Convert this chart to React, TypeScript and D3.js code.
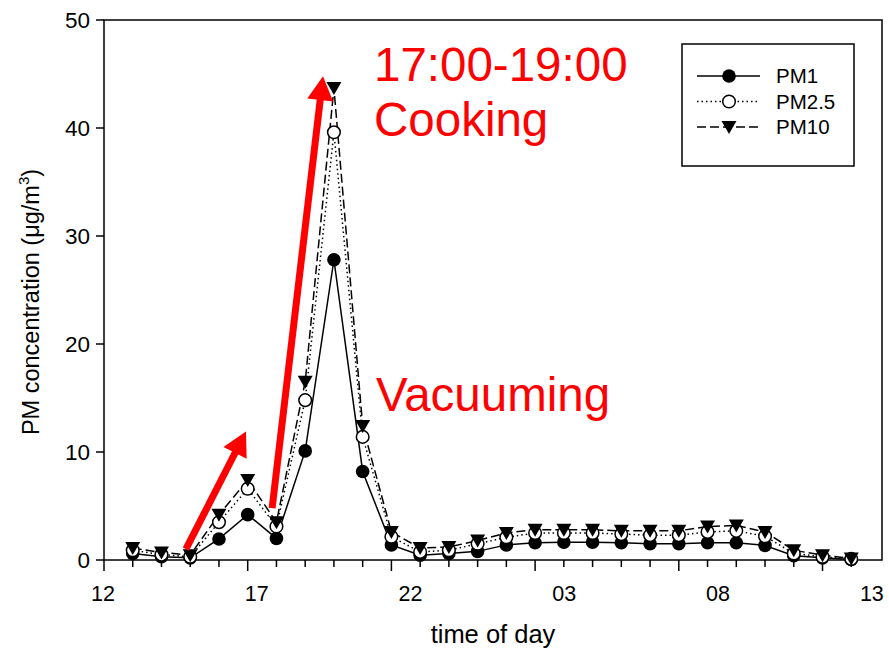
import React from "react";
import * as d3 from "d3";

// sample index (1..26) ~ hourly samples from 13:00 to next day
const sampleIdx = [1,2,3,4,5,6,7,8,9,10,11,12,13,14,15,16,17,18,19,20,21,22,23,24,25,26];
const pm1 = [0.6,0.3,0.2,1.95,4.2,2.0,10.1,27.8,8.2,1.4,0.45,0.6,0.8,1.4,1.6,1.65,1.65,1.6,1.5,1.5,1.6,1.6,1.35,0.4,0.2,0.05];
const pm25 = [0.9,0.5,0.3,3.5,6.6,3.1,14.8,39.6,11.4,2.15,0.75,0.9,1.5,2.1,2.5,2.5,2.5,2.4,2.3,2.3,2.6,2.7,2.2,0.6,0.3,0.1];
const pm10 = [1.1,0.7,0.45,4.2,7.4,3.5,16.5,43.7,12.4,2.6,1.1,1.2,1.8,2.5,2.8,2.8,2.8,2.7,2.7,2.7,3.1,3.2,2.6,0.9,0.45,0.15];

const xLabelHours = [12,17,22,27,32,37];
const xLabelTexts = ["12","17","22","03","08","13"];
const yTicks = [0,10,20,30,40,50];
const seriesNames = ["PM1","PM2.5","PM10"];

// annotation arrows in data coords [idx, value]
const arrows = [
  { from: [2.85, 1.0], to: [4.94, 11.9] },
  { from: [5.85, 4.8], to: [7.62, 44.8] },
];

const W = 889, H = 653;
const L = 104, R = 882, T = 20, B = 560;
const FONT = "'Liberation Sans', Arial, sans-serif";

export default function App() {
  const x = d3.scaleLinear().domain([0, 27.07]).range([L, R]);
  const xh = d3.scaleLinear().domain([12, 37.33]).range([L - 1, R]);
  const y = d3.scaleLinear().domain([0, 50]).range([B, T]);

  const series = [
    { name: seriesNames[0], vals: pm1, dash: "none", marker: "filled" },
    { name: seriesNames[1], vals: pm25, dash: "1.5 3", marker: "open" },
    { name: seriesNames[2], vals: pm10, dash: "9 4", marker: "tri" },
  ];

  const line = d3.line<number>().x((_, i) => x(sampleIdx[i])).y((d) => y(d));

  const marker = (type: string, cx: number, cy: number, key: any) => {
    if (type === "filled") return <circle key={key} cx={cx} cy={cy} r={6.8} fill="#000" />;
    if (type === "open") return <circle key={key} cx={cx} cy={cy} r={6.3} fill="#fff" stroke="#000" strokeWidth={1.5} />;
    return <path key={key} d={`M${cx - 7.5},${cy - 6}L${cx + 7.5},${cy - 6}L${cx},${cy + 7}Z`} fill="#000" />;
  };

  const ticksIdx = d3.range(0, 27);

  const arrowEl = (a: any, i: number) => {
    const x1 = x(a.from[0]), y1 = y(a.from[1]);
    const x2 = x(a.to[0]), y2 = y(a.to[1]);
    const ang = Math.atan2(y2 - y1, x2 - x1);
    const headL = 24, headW = 13;
    const bx = x2 - headL * Math.cos(ang), by = y2 - headL * Math.sin(ang);
    const px = -Math.sin(ang), py = Math.cos(ang);
    return (
      <g key={i}>
        <line x1={x1} y1={y1} x2={bx + Math.cos(ang)} y2={by + Math.sin(ang)} stroke="#ff0000" strokeWidth={7} />
        <path d={`M${x2},${y2}L${bx + px * headW},${by + py * headW}L${bx - px * headW},${by - py * headW}Z`} fill="#ff0000" />
      </g>
    );
  };

  return (
    <svg width={W} height={H} style={{ position: "absolute", left: 0, top: 0, background: "#fff" }} fontFamily={FONT}>
      <rect x={0} y={0} width={W} height={H} fill="#fff" />
      {/* frame */}
      <rect x={L} y={T} width={R - L} height={B - T} fill="none" stroke="#000" strokeWidth={1.5} />
      {/* y ticks */}
      {yTicks.map((t) => (
        <g key={t}>
          <line x1={L - 8} x2={L} y1={y(t)} y2={y(t)} stroke="#000" strokeWidth={1.5} />
          <text x={L - 14} y={y(t)} dy="0.36em" textAnchor="end" fontSize={22.5} fill="#000">{t}</text>
        </g>
      ))}
      {/* x ticks */}
      {ticksIdx.map((t) => (
        <line key={t} x1={x(t)} x2={x(t)} y1={B} y2={B + (t % 5 === 0 ? 11 : 7)} stroke="#000" strokeWidth={1.5} />
      ))}
      {xLabelHours.map((h, i) => (
        <text key={h} x={xh(h)} y={601} textAnchor="middle" fontSize={21.5} fill="#000">{xLabelTexts[i]}</text>
      ))}
      <text x={493} y={643} textAnchor="middle" fontSize={25.5} fill="#000">time of day</text>
      <text transform={`translate(39,${(T + B) / 2 + 12}) rotate(-90)`} textAnchor="middle" fontSize={23.5} fill="#000">
        PM concentration (μg/m<tspan dy={-10} fontSize={15}>3</tspan><tspan dy={10}>)</tspan>
      </text>
      {/* series */}
      {series.map((s) => (
        <path key={s.name} d={line(s.vals) || ""} fill="none" stroke="#000" strokeWidth={1.5} strokeDasharray={s.dash} />
      ))}
      {series.map((s) => (
        <g key={s.name + "m"}>{s.vals.map((v, i) => marker(s.marker, x(sampleIdx[i]), y(v), i))}</g>
      ))}
      {/* legend */}
      <rect x={682} y={44} width={172} height={122} fill="#fff" stroke="#000" strokeWidth={1.5} />
      {series.map((s, i) => {
        const ly = 76 + i * 25.5;
        return (
          <g key={s.name + "l"}>
            <line x1={697} x2={760} y1={ly} y2={ly} stroke="#000" strokeWidth={1.5} strokeDasharray={s.dash} />
            {marker(s.marker, 729, ly, "lm")}
            <text x={776} y={ly} dy="0.36em" fontSize={20.5} fill="#000">{s.name}</text>
          </g>
        );
      })}
      {/* annotations */}
      {arrows.map(arrowEl)}
      <text x={374} y={81} fontSize={47.5} fill="#ff0000">17:00-19:00</text>
      <text x={374} y={136} fontSize={47.5} fill="#ff0000">Cooking</text>
      <text x={376} y={411} fontSize={47.5} fill="#ff0000">Vacuuming</text>
    </svg>
  );
}
